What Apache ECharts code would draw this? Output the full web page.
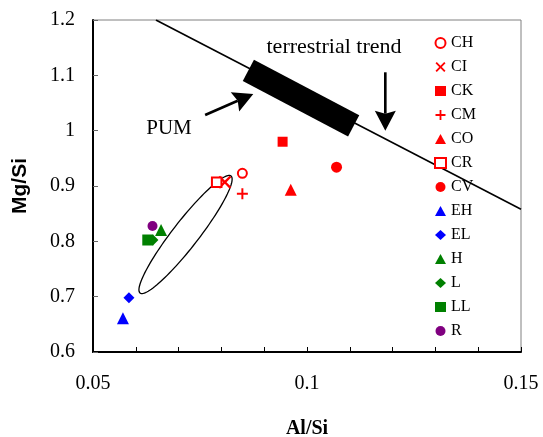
<!DOCTYPE html>
<html>
<head>
<meta charset="utf-8">
<script src="https://cdn.jsdelivr.net/npm/echarts@6/dist/echarts.min.js"></script>
<style>
  html, body { margin: 0; padding: 0; background: #fff; }
  #chart { width: 543px; height: 437px; }
</style>
</head>
<body>
<div id="chart"></div>
<script>
// meteorite groups, [Al/Si, Mg/Si]
const CH = [[0.0849, 0.923]];
const CI = [[0.0808, 0.907]];
const CK = [[0.0943, 0.980]];
const CM = [[0.0849, 0.886]];
const CO = [[0.0962, 0.893]];
const CR = [[0.0789, 0.907]];
const CV = [[0.1069, 0.934]];
const EH = [[0.0570, 0.661]];
const EL = [[0.0584, 0.698]];
const H = [[0.0659, 0.8205]];
const L = [[0.0640, 0.8024]];
const LL = [[0.0628, 0.8024]];
const R = [[0.0639, 0.8277]];

// annotations (data space)
const trendLine = [[0.0647, 1.2], [0.15, 0.858]];
const pumBar = [[0.0863, 1.1088], [0.1109, 1.0086]];
const arrows = [
  [0.0762, 1.0283, 0.08745, 1.0663], // PUM arrow
  [0.1183, 1.1055, 0.1183, 1.0]      // terrestrial trend arrow
];
const ellipse = [[0.0610, 0.7066, 0.08224, 0.9181]]; // major axis ends

const xTicks = { min: 0.05, max: 0.15, step: 0.01 };
const yTicks = { min: 0.6, max: 1.2, step: 0.1 };

const SERIF = "'Liberation Serif', 'DejaVu Serif', serif";
const RED = '#ff0000', BLUE = '#0000ff', GREEN = '#008000', PURPLE = '#800080';
const X_PATH = 'path://M0,1.3L1.3,0L5,3.7L8.7,0L10,1.3L6.3,5L10,8.7L8.7,10L5,6.3L1.3,10L0,8.7L3.7,5Z';
const PLUS_PATH = 'path://M4.1,0H5.9V4.1H10V5.9H5.9V10H4.1V5.9H0V4.1H4.1Z';

const chart = echarts.init(document.getElementById('chart'), null, { renderer: 'canvas' });

function pt(name, data, symbol, size, color, hollow) {
  return {
    name: name,
    type: 'scatter',
    data: data,
    symbol: symbol,
    symbolSize: size,
    z: 5,
    itemStyle: hollow
      ? { color: '#fff', borderColor: color, borderWidth: 2, opacity: 1 }
      : { color: color, opacity: 1 },
    emphasis: { disabled: true }
  };
}

function renderArrow(params, api) {
  const p0 = api.coord([api.value(0), api.value(1)]);
  const p1 = api.coord([api.value(2), api.value(3)]);
  const dx = p1[0] - p0[0], dy = p1[1] - p0[1];
  const len = Math.hypot(dx, dy);
  const ux = dx / len, uy = dy / len;
  const nx = -uy, ny = ux;
  const headLen = 20, half = 10.5, notch = 3;
  const bx = p1[0] - ux * headLen, by = p1[1] - uy * headLen;
  const mx = bx + ux * notch, my = by + uy * notch;
  return {
    type: 'group',
    children: [
      { type: 'line', shape: { x1: p0[0], y1: p0[1], x2: mx, y2: my },
        style: { stroke: '#000', lineWidth: 2.6 } },
      { type: 'polygon',
        shape: { points: [p1, [bx + nx * half, by + ny * half], [mx, my], [bx - nx * half, by - ny * half]] },
        style: { fill: '#000' } }
    ]
  };
}

function renderEllipse(params, api) {
  const p0 = api.coord([api.value(0), api.value(1)]);
  const p1 = api.coord([api.value(2), api.value(3)]);
  const cx = (p0[0] + p1[0]) / 2, cy = (p0[1] + p1[1]) / 2;
  const a = Math.hypot(p1[0] - p0[0], p1[1] - p0[1]) / 2;
  const b = 13;
  const th = Math.atan2(p1[1] - p0[1], p1[0] - p0[0]);
  const pts = [];
  for (let i = 0; i < 120; i++) {
    const t = i / 120 * Math.PI * 2;
    pts.push([
      cx + a * Math.cos(th) * Math.cos(t) - b * Math.sin(th) * Math.sin(t),
      cy + a * Math.sin(th) * Math.cos(t) + b * Math.cos(th) * Math.sin(t)
    ]);
  }
  return { type: 'polygon', shape: { points: pts }, style: { fill: 'none', stroke: '#000', lineWidth: 1.3 } };
}

const groups = ['CH', 'CI', 'CK', 'CM', 'CO', 'CR', 'CV', 'EH', 'EL', 'H', 'L', 'LL', 'R'];

chart.setOption({
  animation: false,
  backgroundColor: '#fff',
  grid: {
    left: 93, right: 22, top: 20, bottom: 85,
    show: true, borderColor: '#808080', borderWidth: 1,
    outerBoundsMode: 'none', containLabel: false
  },
  legend: {
    data: groups,
    orient: 'vertical',
    left: 429, top: 30,
    itemWidth: 11, itemHeight: 10,
    itemGap: 8,
    textStyle: { fontFamily: SERIF, fontSize: 16, color: '#000' },
    selectedMode: false
  },
  xAxis: {
    type: 'value',
    min: xTicks.min, max: xTicks.max, interval: xTicks.step,
    name: 'Al/Si', nameLocation: 'middle', nameGap: 67,
    nameTextStyle: { fontFamily: SERIF, fontSize: 20, fontWeight: 'bold', color: '#000' },
    axisLine: { show: true, onZero: false, lineStyle: { color: '#000', width: 2 } },
    axisTick: { show: true, inside: true, length: 5, lineStyle: { color: '#000' } },
    axisLabel: {
      fontFamily: SERIF, fontSize: 20, color: '#000', margin: 22,
      formatter: v => (Math.round(v * 100) % 5 === 0 ? String(Math.round(v * 100) / 100) : '')
    },
    splitLine: { show: false }
  },
  yAxis: {
    type: 'value',
    min: yTicks.min, max: yTicks.max, interval: yTicks.step,
    name: 'Mg/Si', nameLocation: 'middle', nameGap: 62, nameRotate: 90,
    nameTextStyle: { fontFamily: "'Liberation Sans', Arial, sans-serif", fontSize: 21, fontWeight: 'bold', color: '#000' },
    axisLine: { show: true, onZero: false, lineStyle: { color: '#000', width: 2 } },
    axisTick: { show: true, inside: true, length: 5, lineStyle: { color: '#666' } },
    axisLabel: {
      fontFamily: SERIF, fontSize: 20, color: '#000', margin: 18,
      formatter: v => String(Math.round(v * 10) / 10)
    },
    splitLine: { show: false }
  },
  graphic: [
    { type: 'text', x: 334, y: 47, style: { text: 'terrestrial trend', font: '22px ' + SERIF, fill: '#000', align: 'center', verticalAlign: 'middle' } },
    { type: 'text', x: 169, y: 128, style: { text: 'PUM', font: '21px ' + SERIF, fill: '#000', align: 'center', verticalAlign: 'middle' } }
  ],
  series: [
    { type: 'line', data: trendLine, symbol: 'none', silent: true, z: 2,
      lineStyle: { color: '#000', width: 1.6 } },
    { type: 'line', data: pumBar, symbol: 'none', silent: true, z: 3,
      lineStyle: { color: '#000', width: 24, cap: 'butt' } },
    { type: 'custom', data: arrows, renderItem: renderArrow, silent: true, z: 3,
      encode: { x: [0, 2], y: [1, 3] } },
    { type: 'custom', data: ellipse, renderItem: renderEllipse, silent: true, z: 3,
      encode: { x: [0, 2], y: [1, 3] } },
    pt('CH', CH, 'circle', 9, RED, true),
    pt('CI', CI, X_PATH, 13, RED),
    pt('CK', CK, 'rect', 10, RED),
    pt('CM', CM, PLUS_PATH, 11, RED),
    pt('CO', CO, 'triangle', 12, RED),
    pt('CR', CR, 'rect', 9.5, RED, true),
    pt('CV', CV, 'circle', 11, RED),
    pt('EH', EH, 'triangle', 12, BLUE),
    pt('EL', EL, 'diamond', 11, BLUE),
    pt('H', H, 'triangle', 12, GREEN),
    pt('L', L, 'diamond', 11, GREEN),
    pt('LL', LL, 'rect', 11, GREEN),
    pt('R', R, 'circle', 10, PURPLE)
  ]
});
</script>
</body>
</html>
